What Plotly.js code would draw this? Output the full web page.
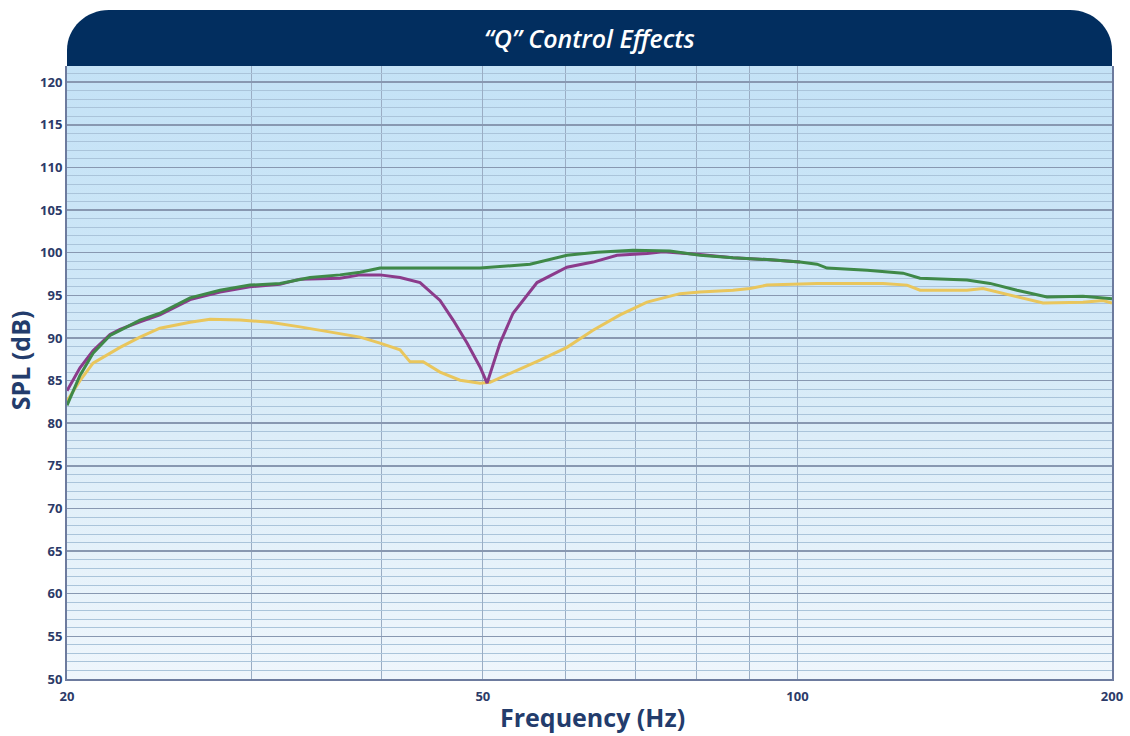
<!DOCTYPE html>
<html>
<head>
<meta charset="utf-8">
<script src="https://cdn.plot.ly/plotly-3.0.1.min.js"></script>
<style>
  html, body { margin: 0; padding: 0; background: #ffffff; }
  #wrap { position: relative; width: 1130px; height: 736px; }
  #bg { position: absolute; left: 67px; top: 66px; width: 1045px; height: 613px;
        background: linear-gradient(to bottom, #c4e2f6 0%, #cce6f7 30%, #dcedf8 60%, #eff6fc 100%); }
  #chart { position: absolute; left: 0; top: 0; width: 1130px; height: 736px; }
</style>
</head>
<body>
<div id="wrap">
  <div id="bg"></div>
  <div id="chart"></div>
</div>
<script>
// Frequencies (Hz) and SPL (dB)
const greenFreq = [20.0, 20.58, 21.18, 21.99, 22.48, 23.49, 24.54, 26.23, 28.02, 29.93, 31.98, 34.17, 36.5, 38.15, 39.86, 43.5, 47.5, 49.69, 55.48, 60.18, 64.31, 69.61, 75.5, 80.67, 86.76, 93.52, 100.57, 104.41, 106.74, 116.63, 126.19, 131.02, 145.29, 152.87, 162.23, 173.31, 187.61, 199.13, 200];
const greenSPL  = [82.1, 85.6, 88.2, 90.3, 90.9, 92.1, 92.9, 94.7, 95.6, 96.2, 96.4, 97.1, 97.4, 97.7, 98.2, 98.2, 98.2, 98.2, 98.65, 99.7, 100.06, 100.3, 100.2, 99.7, 99.4, 99.2, 98.9, 98.65, 98.2, 97.95, 97.6, 97.0, 96.8, 96.4, 95.6, 94.8, 94.9, 94.7, 94.6];

const purpleFreq = [20.0, 20.58, 21.18, 21.99, 22.48, 23.49, 24.54, 26.23, 28.02, 29.93, 31.98, 33.42, 36.5, 38.15, 39.86, 41.66, 43.54, 45.5, 46.83, 48.29, 49.69, 50.47, 51.93, 53.44, 56.34, 60.18, 63.74, 67.2, 71.79, 74.36, 80.67, 86.76, 93.52, 100.57];
const purpleSPL  = [83.8, 86.5, 88.5, 90.4, 91.0, 91.9, 92.7, 94.5, 95.4, 96.0, 96.3, 96.9, 97.0, 97.4, 97.4, 97.1, 96.5, 94.4, 92.1, 89.4, 86.6, 84.7, 89.4, 92.9, 96.5, 98.3, 98.9, 99.7, 99.9, 100.1, 99.8, 99.4, 99.2, 98.9];

const yellowFreq = [20.0, 20.58, 21.18, 22.48, 23.49, 24.54, 26.23, 27.41, 29.28, 31.29, 33.42, 34.93, 36.5, 38.15, 39.86, 41.66, 42.59, 43.83, 45.5, 47.55, 49.69, 50.8, 53.44, 56.71, 60.18, 63.74, 67.65, 71.79, 77.2, 80.67, 86.76, 90.08, 93.52, 104.41, 120.79, 127.31, 131.02, 145.29, 150.52, 159.74, 171.8, 187.61, 196.08, 200];
const yellowSPL  = [82.6, 85.0, 87.05, 88.9, 90.1, 91.15, 91.85, 92.2, 92.1, 91.85, 91.3, 90.9, 90.56, 90.1, 89.4, 88.6, 87.2, 87.2, 86.0, 85.05, 84.7, 84.8, 86.0, 87.4, 88.9, 90.9, 92.7, 94.2, 95.2, 95.4, 95.6, 95.8, 96.2, 96.4, 96.4, 96.2, 95.6, 95.6, 95.8, 95.0, 94.1, 94.2, 94.4, 94.1];

const xTickVals = [20, 50, 100, 200];
const xTickText = ['20', '50', '100', '200'];
const xMinorVals = [30, 40, 60, 70, 80, 90];
const yTickVals = [50, 55, 60, 65, 70, 75, 80, 85, 90, 95, 100, 105, 110, 115, 120];

const traces = [
  { x: yellowFreq, y: yellowSPL, mode: 'lines', line: { color: '#e9c65c', width: 3 }, name: 'Q low', hoverinfo: 'x+y' },
  { x: purpleFreq, y: purpleSPL, mode: 'lines', line: { color: '#8b3b8b', width: 3 }, name: 'Q high', hoverinfo: 'x+y' },
  { x: greenFreq, y: greenSPL, mode: 'lines', line: { color: '#3f8948', width: 3 }, name: 'Flat', hoverinfo: 'x+y' }
];

const tickFont = { family: 'Open Sans, sans-serif', size: 13, color: '#2c3a68', weight: 700 };
const axisTitleFont = { family: 'Open Sans, sans-serif', size: 25, color: '#233c6c', weight: 700 };

const bTop = 1 + 56 / 613;
const rx = 42 / 1045, ry = 40 / 613, k = 0.552;
const bannerPath = 'M 0,1 L 0,' + (bTop - ry) +
  ' C 0,' + (bTop - ry + k * ry) + ' ' + (rx - k * rx) + ',' + bTop + ' ' + rx + ',' + bTop +
  ' L ' + (1 - rx) + ',' + bTop +
  ' C ' + (1 - rx + k * rx) + ',' + bTop + ' 1,' + (bTop - ry + k * ry) + ' 1,' + (bTop - ry) +
  ' L 1,1 Z';

const layout = {
  width: 1130, height: 736,
  margin: { l: 67, r: 18, t: 66, b: 57 },
  paper_bgcolor: 'rgba(0,0,0,0)',
  plot_bgcolor: 'rgba(0,0,0,0)',
  showlegend: false,
  title: {
    text: '“Q” Control Effects',
    font: { family: 'Open Sans, sans-serif', size: 25, color: '#ffffff', style: 'italic', weight: 600 },
    xref: 'paper', x: 0.5, xanchor: 'center',
    yref: 'container', y: 1 - 39 / 736, yanchor: 'middle'
  },
  xaxis: {
    type: 'log',
    range: [Math.log10(20), Math.log10(200)],
    tickmode: 'array', tickvals: xTickVals, ticktext: xTickText,
    ticks: '', tickfont: tickFont, ticklabelstandoff: 4,
    showgrid: true, gridcolor: '#9aadc4', gridwidth: 1,
    minor: { tickmode: 'array', tickvals: xMinorVals, showgrid: true, gridcolor: '#9aadc4', gridwidth: 1, ticks: '' },
    showline: true, linecolor: '#6d7b9e', linewidth: 2, mirror: false,
    zeroline: false
  },
  yaxis: {
    range: [50, 121.9],
    tickmode: 'array', tickvals: yTickVals,
    ticks: '', tickfont: tickFont,
    showgrid: true, gridcolor: '#8898b1', gridwidth: 1.5,
    minor: { dtick: 1, tick0: 50, showgrid: true, gridcolor: '#aac4da', gridwidth: 1, ticks: '' },
    showline: true, linecolor: '#6d7b9e', linewidth: 2, mirror: true,
    zeroline: false
  },
  annotations: [
    { text: 'Frequency (Hz)', xref: 'paper', yref: 'paper', x: 0.5033, y: -0.062,
      xanchor: 'center', yanchor: 'middle', showarrow: false, font: axisTitleFont },
    { text: 'SPL (dB)', xref: 'paper', yref: 'paper', x: -0.045, y: 0.52, textangle: -90,
      xanchor: 'center', yanchor: 'middle', showarrow: false, font: axisTitleFont }
  ],
  shapes: [
    { type: 'path', xref: 'paper', yref: 'paper', path: bannerPath,
      fillcolor: '#022e5f', line: { width: 0 }, layer: 'above' }
  ]
};

Plotly.newPlot('chart', traces, layout, { displayModeBar: false, staticPlot: true });
</script>
</body>
</html>
